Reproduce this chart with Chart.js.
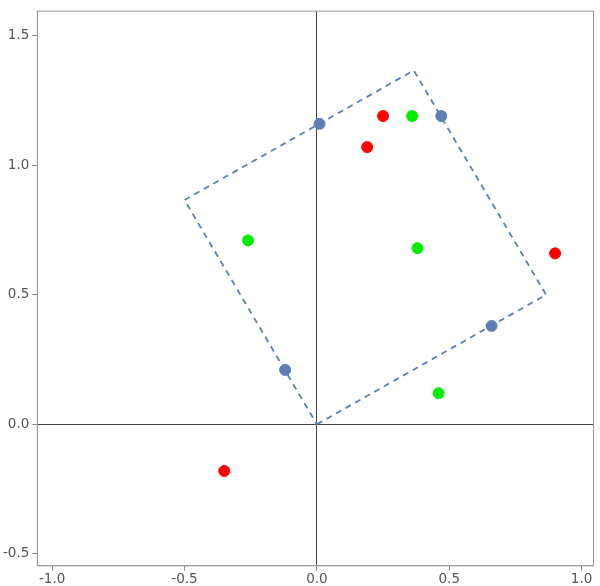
<!DOCTYPE html>
<html>
<head>
<script src="https://cdn.jsdelivr.net/npm/chart.js@4"></script>
<style>body{margin:0;background:#fff}#wrap{width:600px;height:586px}</style>
</head>
<body>
<div id="wrap"><canvas id="c"></canvas></div>
<script>
// 四角形の頂点
const squareX = [0, 0.866, 0.366, -0.5, 0];
const squareY = [0, 0.5, 1.366, 0.866, 0];
// 点のデータ
const blueX = [0.01, 0.47, 0.66, -0.12];
const blueY = [1.16, 1.19, 0.38, 0.21];
const redX = [0.25, 0.19, 0.9, -0.35];
const redY = [1.19, 1.07, 0.66, -0.18];
const greenX = [0.36, 0.38, -0.26, 0.46];
const greenY = [1.19, 0.68, 0.71, 0.12];
const tickVals = [-1, -0.5, 0, 0.5, 1, 1.5];

const pts = (xs, ys) => xs.map((x, i) => ({x: x, y: ys[i]}));
const dot = (xs, ys, col) => ({
  type: 'scatter', data: pts(xs, ys), backgroundColor: col, borderColor: col,
  pointRadius: 5.5, pointHoverRadius: 5.5
});
const zeroGrid = {
  drawTicks: true, tickLength: 5, tickColor: '#888',
  color: c => c.tick && c.tick.value === 0 ? '#444' : 'rgba(0,0,0,0)',
  lineWidth: 1
};
const tickFmt = v => Number(v).toFixed(1);
const tickFont = {family: 'DejaVu Sans', size: 13.5};

new Chart(document.getElementById('c'), {
  type: 'scatter',
  data: {
    datasets: [
      {type: 'line', data: pts(squareX, squareY), borderColor: '#5b7fb5', borderWidth: 1.8,
       borderDash: [6, 5], pointRadius: 0, fill: false, tension: 0},
      dot(blueX, blueY, '#5b7fb5'),
      dot(redX, redY, '#ff0000'),
      dot(greenX, greenY, '#00ee00')
    ]
  },
  options: {
    responsive: true, maintainAspectRatio: false, animation: false,
    layout: {padding: {top: 2, right: 3, bottom: -3}},
    plugins: {legend: {display: false}, tooltip: {enabled: false}},
    scales: {
      x: {type: 'linear', min: -1.056, max: 1.045,
          afterBuildTicks: a => { a.ticks = tickVals.slice(0, 5).map(v => ({value: v})); },
          ticks: {callback: tickFmt, color: '#555', font: tickFont, padding: 1},
          grid: zeroGrid, border: {color: '#999'}},
      y: {type: 'linear', min: -0.546, max: 1.595,
          afterBuildTicks: a => { a.ticks = tickVals.map(v => ({value: v})); },
          ticks: {callback: tickFmt, color: '#555', font: tickFont},
          grid: zeroGrid, border: {color: '#999'}}
    }
  },
  plugins: [{
    id: 'frame',
    afterDraw(chart) {
      const a = chart.chartArea, ctx = chart.ctx;
      ctx.save(); ctx.strokeStyle = '#999'; ctx.lineWidth = 1;
      ctx.strokeRect(a.left, a.top, a.right - a.left, a.bottom - a.top);
      ctx.restore();
    }
  }]
});
</script>
</body>
</html>
